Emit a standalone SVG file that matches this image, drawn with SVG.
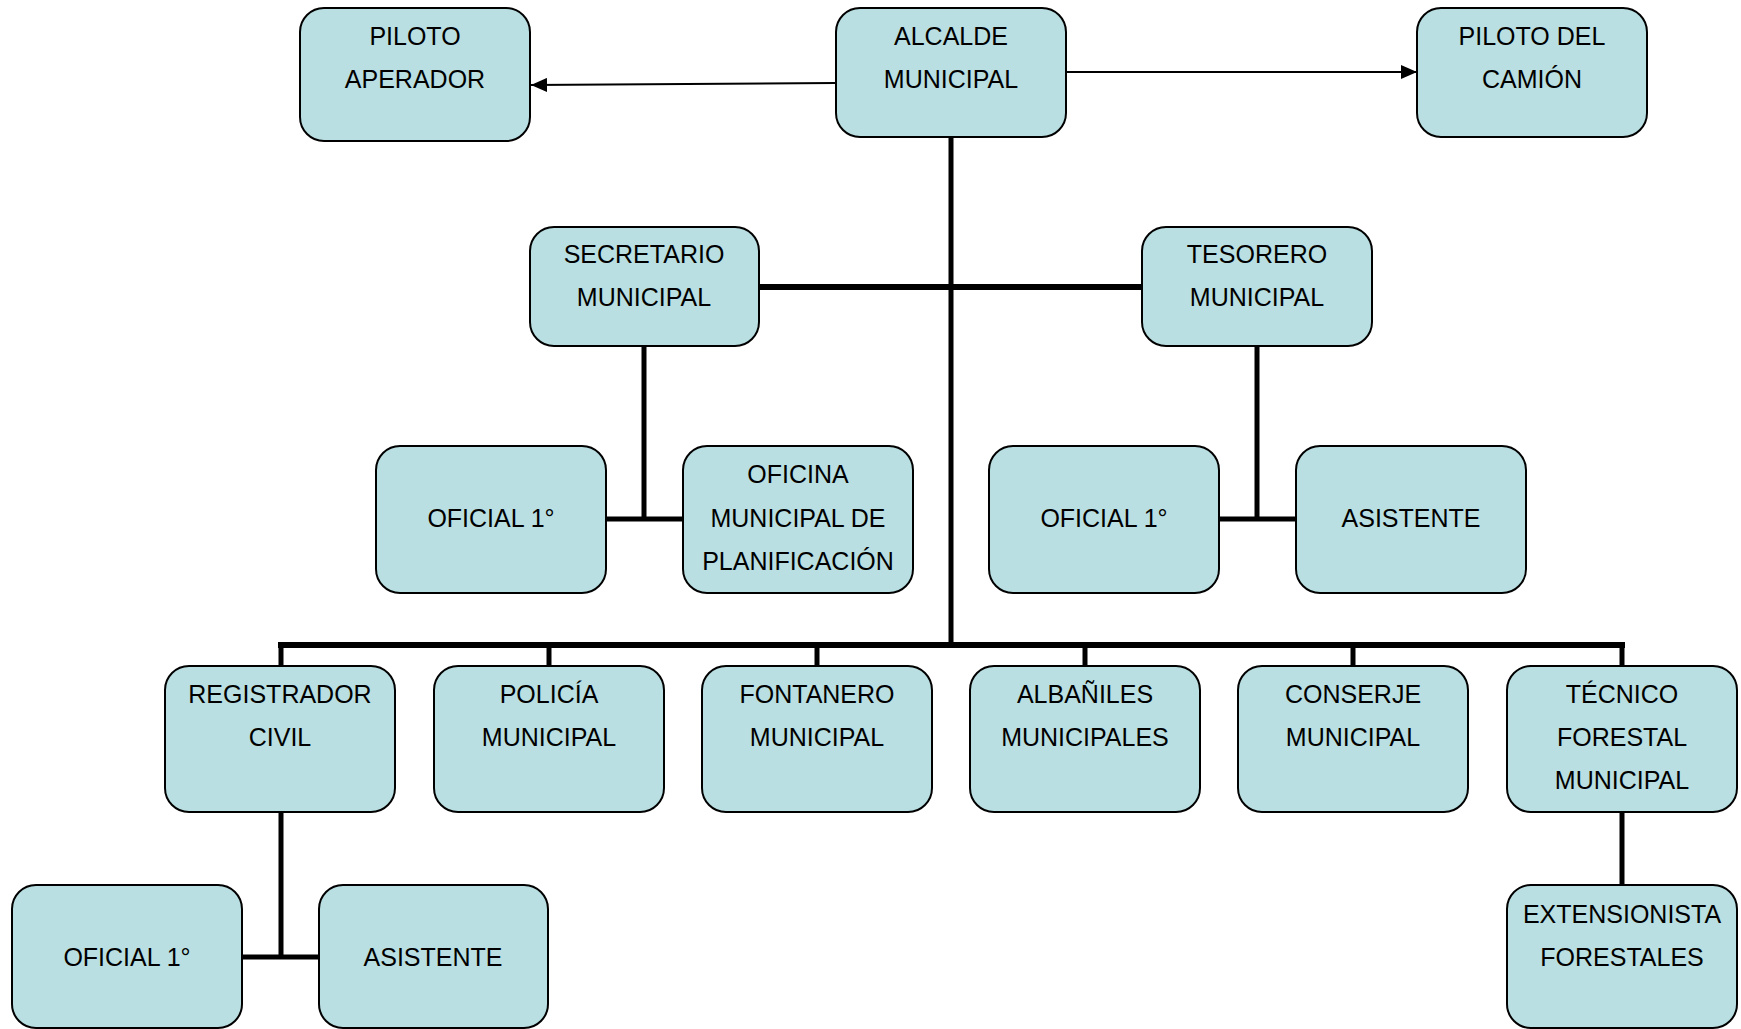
<svg xmlns="http://www.w3.org/2000/svg" width="1741" height="1029" viewBox="0 0 1741 1029">
<style>
.box{fill:#B9DFE2;stroke:#000;stroke-width:2}
.t{font-family:"Liberation Sans",Arial,sans-serif;font-size:25px;fill:#000;text-anchor:middle}
.c{stroke:#000;fill:none;stroke-linecap:butt}
.thin{stroke-width:2}
.thick{stroke-width:5}
.bus{stroke-width:6}
</style>
<defs>
<marker id="ah" markerWidth="16" markerHeight="14" refX="16" refY="7" orient="auto" markerUnits="userSpaceOnUse">
<path d="M0,0 L16,7 L0,14 Z" fill="#000"/>
</marker>
</defs>
<rect width="1741" height="1029" fill="#fff"/>
<g id="connectors">
<line class="c thin" x1="836" y1="83" x2="531" y2="85" marker-end="url(#ah)"/>
<line class="c thin" x1="1066" y1="72" x2="1417" y2="72" marker-end="url(#ah)"/>
<line class="c thick" x1="951" y1="137" x2="951" y2="647"/>
<line class="c bus" x1="759" y1="287" x2="1142" y2="287"/>
<line class="c thick" x1="644" y1="346" x2="644" y2="521"/>
<line class="c thick" x1="606" y1="519" x2="683" y2="519"/>
<line class="c thick" x1="1257" y1="346" x2="1257" y2="521"/>
<line class="c thick" x1="1219" y1="519" x2="1296" y2="519"/>
<line class="c bus" x1="278" y1="645" x2="1625" y2="645"/>
<line class="c thick" x1="281" y1="642" x2="281" y2="666"/>
<line class="c thick" x1="549" y1="642" x2="549" y2="666"/>
<line class="c thick" x1="817" y1="642" x2="817" y2="666"/>
<line class="c thick" x1="1085" y1="642" x2="1085" y2="666"/>
<line class="c thick" x1="1353" y1="642" x2="1353" y2="666"/>
<line class="c thick" x1="1622" y1="642" x2="1622" y2="666"/>
<line class="c thick" x1="281" y1="812" x2="281" y2="959"/>
<line class="c thick" x1="242" y1="957" x2="319" y2="957"/>
<line class="c thick" x1="1622" y1="812" x2="1622" y2="885"/>
</g>
<g id="piloto-aperador"><rect class="box" x="300" y="8" width="230" height="133" rx="24"/><text class="t" x="415" y="45">PILOTO</text><text class="t" x="415" y="88">APERADOR</text></g>
<g id="alcalde"><rect class="box" x="836" y="8" width="230" height="129" rx="24"/><text class="t" x="951" y="45">ALCALDE</text><text class="t" x="951" y="88">MUNICIPAL</text></g>
<g id="piloto-camion"><rect class="box" x="1417" y="8" width="230" height="129" rx="24"/><text class="t" x="1532" y="45">PILOTO DEL</text><text class="t" x="1532" y="88">CAMIÓN</text></g>
<g id="secretario"><rect class="box" x="530" y="227" width="229" height="119" rx="24"/><text class="t" x="644" y="263">SECRETARIO</text><text class="t" x="644" y="306">MUNICIPAL</text></g>
<g id="tesorero"><rect class="box" x="1142" y="227" width="230" height="119" rx="24"/><text class="t" x="1257" y="263">TESORERO</text><text class="t" x="1257" y="306">MUNICIPAL</text></g>
<g id="oficial-sec"><rect class="box" x="376" y="446" width="230" height="147" rx="24"/><text class="t" x="491" y="527">OFICIAL 1°</text></g>
<g id="oficina-planificacion"><rect class="box" x="683" y="446" width="230" height="147" rx="24"/><text class="t" x="798" y="483">OFICINA</text><text class="t" x="798" y="527">MUNICIPAL DE</text><text class="t" x="798" y="570">PLANIFICACIÓN</text></g>
<g id="oficial-tes"><rect class="box" x="989" y="446" width="230" height="147" rx="24"/><text class="t" x="1104" y="527">OFICIAL 1°</text></g>
<g id="asistente-tes"><rect class="box" x="1296" y="446" width="230" height="147" rx="24"/><text class="t" x="1411" y="527">ASISTENTE</text></g>
<g id="registrador"><rect class="box" x="165" y="666" width="230" height="146" rx="24"/><text class="t" x="280" y="703">REGISTRADOR</text><text class="t" x="280" y="746">CIVIL</text></g>
<g id="policia"><rect class="box" x="434" y="666" width="230" height="146" rx="24"/><text class="t" x="549" y="703">POLICÍA</text><text class="t" x="549" y="746">MUNICIPAL</text></g>
<g id="fontanero"><rect class="box" x="702" y="666" width="230" height="146" rx="24"/><text class="t" x="817" y="703">FONTANERO</text><text class="t" x="817" y="746">MUNICIPAL</text></g>
<g id="albaniles"><rect class="box" x="970" y="666" width="230" height="146" rx="24"/><text class="t" x="1085" y="703">ALBAÑILES</text><text class="t" x="1085" y="746">MUNICIPALES</text></g>
<g id="conserje"><rect class="box" x="1238" y="666" width="230" height="146" rx="24"/><text class="t" x="1353" y="703">CONSERJE</text><text class="t" x="1353" y="746">MUNICIPAL</text></g>
<g id="tecnico-forestal"><rect class="box" x="1507" y="666" width="230" height="146" rx="24"/><text class="t" x="1622" y="703">TÉCNICO</text><text class="t" x="1622" y="746">FORESTAL</text><text class="t" x="1622" y="789">MUNICIPAL</text></g>
<g id="oficial-reg"><rect class="box" x="12" y="885" width="230" height="143" rx="24"/><text class="t" x="127" y="966">OFICIAL 1°</text></g>
<g id="asistente-reg"><rect class="box" x="319" y="885" width="229" height="143" rx="24"/><text class="t" x="433" y="966">ASISTENTE</text></g>
<g id="extensionista"><rect class="box" x="1507" y="885" width="230" height="143" rx="24"/><text class="t" x="1622" y="923">EXTENSIONISTA</text><text class="t" x="1622" y="966">FORESTALES</text></g>
</svg>
